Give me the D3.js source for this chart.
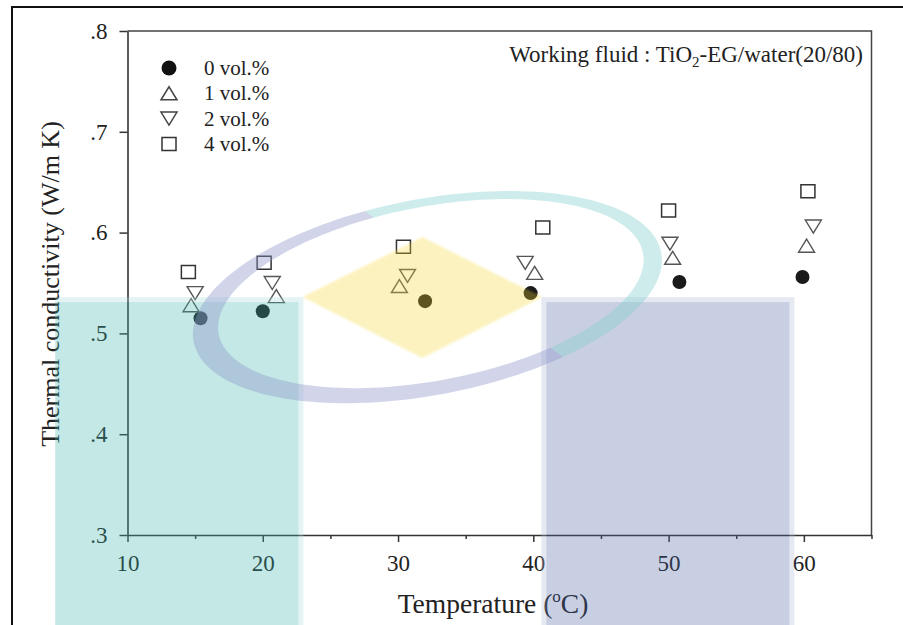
<!DOCTYPE html>
<html><head><meta charset="utf-8">
<script src="https://cdn.jsdelivr.net/npm/d3@7"></script>
<style>
html,body{margin:0;padding:0;background:#fff;}
svg{display:block;}
text{font-family:"Liberation Serif","Times New Roman",serif;}
</style></head><body>
<svg id="chart" width="903" height="625"></svg>
<script>
// ---------------- data ----------------
const seriesNames = ["0 vol.%", "1 vol.%", "2 vol.%", "4 vol.%"];
const temp0 = [15.4, 20.0, 32.0, 39.8, 50.8, 59.9];
const cond0 = [0.515, 0.522, 0.532, 0.540, 0.551, 0.556];
const temp1 = [14.7, 21.0, 30.1, 40.1, 50.3, 60.2];
const cond1 = [0.528, 0.537, 0.547, 0.560, 0.575, 0.587];
const temp2 = [15.0, 20.7, 30.7, 39.4, 50.1, 60.7];
const cond2 = [0.540, 0.550, 0.557, 0.570, 0.589, 0.606];
const temp4 = [14.5, 20.1, 30.4, 40.7, 50.0, 60.3];
const cond4 = [0.561, 0.570, 0.586, 0.605, 0.622, 0.641];
const xTicks = [10, 20, 30, 40, 50, 60];
const xMinorTicks = [15, 25, 35, 45, 55, 65];
const yTicks = [0.3, 0.4, 0.5, 0.6, 0.7, 0.8];
const yTickLabels = [".3", ".4", ".5", ".6", ".7", ".8"];
const xTitle = "Temperature (";
const yTitle = "Thermal conductivity (W/m K)";

// ---------------- layout ----------------
const svg = d3.select("#chart");
const W = 903, H = 625;
const x = d3.scaleLinear().domain([10, 65]).range([127.5, 871.5]);
const y = d3.scaleLinear().domain([0.3, 0.8]).range([535, 31]);
const ink = "#222";

// outer figure frame
svg.append("path").attr("d", `M12,${H} V7 H${W}`)
  .attr("fill", "none").attr("stroke", "#111").attr("stroke-width", 2);

// plot frame (top and right)
svg.append("path")
  .attr("d", `M${x(10)},${y(0.8)} H${x(65)} V${y(0.3)}`)
  .attr("fill", "none").attr("stroke", "#444").attr("stroke-width", 1.5);

// axes
const yAxis = d3.axisLeft(y).tickValues(yTicks)
  .tickFormat((d, i) => yTickLabels[i]).tickSize(8).tickPadding(12).tickSizeOuter(0);
const gy = svg.append("g").attr("transform", `translate(${x(10)},0)`).call(yAxis);
const xAxis = d3.axisBottom(x).tickValues(xTicks).tickSize(7).tickPadding(13).tickSizeOuter(0);
const gx = svg.append("g").attr("transform", `translate(0,${y(0.3)})`).call(xAxis);
const xMinor = d3.axisBottom(x).tickValues(xMinorTicks).tickSize(4).tickFormat("").tickSizeOuter(0);
const gxm = svg.append("g").attr("transform", `translate(0,${y(0.3)})`).call(xMinor);
gxm.select(".domain").remove();
[gx, gy, gxm].forEach(g => {
  g.attr("font-family", null).attr("font-size", null);
  g.selectAll(".domain").attr("stroke", "#333").attr("stroke-width", 1.6);
  g.selectAll(".tick line").attr("stroke", "#333").attr("stroke-width", 1.5);
  g.selectAll(".tick text").attr("fill", ink).style("font-size", "23px")
    .style("font-family", '"Liberation Serif","Times New Roman",serif');
});

// axis titles
const xt = svg.append("text").attr("x", 493).attr("y", 613)
  .attr("text-anchor", "middle").attr("fill", ink).style("font-size", "27.5px");
xt.append("tspan").text(xTitle);
xt.append("tspan").text("o").style("font-size", "17px").attr("dy", -11);
xt.append("tspan").text("C)").attr("dy", 11);

svg.append("text").attr("transform", "translate(59,284) rotate(-90)")
  .attr("text-anchor", "middle").attr("fill", ink).style("font-size", "26px")
  .text(yTitle);

// annotation
const note = svg.append("text").attr("x", 863).attr("y", 62)
  .attr("text-anchor", "end").attr("fill", ink).style("font-size", "23px");
note.append("tspan").text("Working fluid : TiO");
note.append("tspan").text("2").style("font-size", "15px").attr("dy", 5);
note.append("tspan").text("-EG/water(20/80)").attr("dy", -5);

// ---------------- markers ----------------
const triUp = (cx, cy) => `M${cx - 8},${cy + 6.5} L${cx + 8},${cy + 6.5} L${cx},${cy - 6.5} Z`;
const triDown = (cx, cy) => `M${cx - 8},${cy - 6.5} L${cx + 8},${cy - 6.5} L${cx},${cy + 6.5} Z`;
const sq = (cx, cy) => `M${cx - 7},${cy - 6.5} H${cx + 7} V${cy + 6.5} H${cx - 7} Z`;

const pts = (tx, ky) => tx.map((t, i) => ({t, k: ky[i]}));
const gData = svg.append("g");
gData.selectAll("circle.s0").data(pts(temp0, cond0)).join("circle").attr("class", "s0")
  .attr("cx", d => x(d.t)).attr("cy", d => y(d.k)).attr("r", 7).attr("fill", "#1a1a1a");
gData.selectAll("path.s1").data(pts(temp1, cond1)).join("path").attr("class", "s1")
  .attr("d", d => triUp(x(d.t), y(d.k))).attr("fill", "none").attr("stroke", "#555").attr("stroke-width", 1.4);
gData.selectAll("path.s2").data(pts(temp2, cond2)).join("path").attr("class", "s2")
  .attr("d", d => triDown(x(d.t), y(d.k))).attr("fill", "none").attr("stroke", "#555").attr("stroke-width", 1.4);
gData.selectAll("path.s4").data(pts(temp4, cond4)).join("path").attr("class", "s4")
  .attr("d", d => sq(x(d.t), y(d.k))).attr("fill", "none").attr("stroke", "#333").attr("stroke-width", 1.5);

// legend
const leg = svg.append("g");
seriesNames.forEach((name, i) => {
  const cy = 68 + i * 25.3, cx = 169;
  if (i === 0) leg.append("circle").attr("cx", cx).attr("cy", cy).attr("r", 7.5).attr("fill", "#111");
  else {
    const d = i === 1 ? triUp(cx, cy) : i === 2 ? triDown(cx, cy) : sq(cx, cy);
    leg.append("path").attr("d", d).attr("fill", "none")
      .attr("stroke", i === 3 ? "#333" : "#444").attr("stroke-width", 1.5);
  }
  leg.append("text").attr("x", 204).attr("y", cy + 7).attr("fill", ink)
    .style("font-size", "21px").text(name);
});

// ---------------- translucent watermark logo (drawn over the chart) ----------------
const A = 0.3;
function tint(hex, a = A) {
  const c = d3.rgb(hex);
  const f = v => Math.max(0, Math.min(255, Math.round((v - 255 * (1 - a)) / a)));
  return d3.rgb(f(c.r), f(c.g), f(c.b)).formatHex();
}
const defs = svg.append("defs");
defs.append("filter").attr("id", "soft").attr("x", "-20%").attr("y", "-20%")
  .attr("width", "140%").attr("height", "140%")
  .append("feGaussianBlur").attr("stdDeviation", 1.3);
defs.append("filter").attr("id", "soft2")
  .append("feGaussianBlur").attr("stdDeviation", 0.6);

const cxL = x(31.8), cyL = y(0.536);   // logo centre
const wm = svg.append("g").style("pointer-events", "none");

// teal block (left)
const tealC = tint("#c5e9e7");
const gT = wm.append("g").attr("opacity", A).attr("filter", "url(#soft2)");
gT.append("rect").attr("x", cxL - 367).attr("y", cyL).attr("width", 248).attr("height", H - cyL + 10)
  .attr("fill", d3.interpolateRgb(tealC, "#fff")(0.55));
gT.append("rect").attr("x", cxL - 367).attr("y", cyL + 5).attr("width", 243).attr("height", H - cyL)
  .attr("fill", tealC);

// blue-grey block (right)
const blueC = tint("#c9d0e4");
const gB = wm.append("g").attr("opacity", A).attr("filter", "url(#soft2)");
gB.append("rect").attr("x", cxL + 119).attr("y", cyL).attr("width", 253).attr("height", H - cyL + 10)
  .attr("fill", d3.interpolateRgb(blueC, "#fff")(0.55));
gB.append("rect").attr("x", cxL + 124).attr("y", cyL + 5).attr("width", 243).attr("height", H - cyL)
  .attr("fill", blueC);

// yellow diamond
wm.append("path")
  .attr("d", `M${cxL - 120},${cyL} L${cxL},${cyL - 60} L${cxL + 120},${cyL} L${cxL},${cyL + 61} Z`)
  .attr("fill", tint("#fcf3c1")).attr("opacity", A).attr("filter", "url(#soft)");

// elliptical ring: blue-grey on the lower-left side, teal on the upper-right side
function ellipsePts(ex, ey, a, b, rotDeg) {
  const r = rotDeg * Math.PI / 180;
  return d3.range(0, 181).map(i => {
    const t = i / 180 * 2 * Math.PI;
    const px = a * Math.cos(t), py = b * Math.sin(t);
    return [ex + px * Math.cos(r) - py * Math.sin(r), ey + px * Math.sin(r) + py * Math.cos(r)];
  });
}
const ln = d3.line();
const outer = ellipsePts(cxL + 5, cyL, 238, 98, -10.8);
const inner = ellipsePts(cxL + 8.5, cyL - 3.5, 216, 87, -10.8);
const ringD = ln(outer) + "Z" + ln(inner) + "Z";
const P0 = [cxL - 432, cyL - 362], P3 = [cxL + 518, cyL + 338];
defs.append("clipPath").attr("id", "clipBlue").append("path")
  .attr("d", `M${P0} L${P3} L${cxL - 432},${cyL + 338} Z`);
defs.append("clipPath").attr("id", "clipTeal").append("path")
  .attr("d", `M${P0} L${P3} L${cxL + 518},${cyL - 362} Z`);
const AR = 0.4;
wm.append("g").attr("clip-path", "url(#clipBlue)").append("path").attr("d", ringD)
  .attr("fill-rule", "evenodd").attr("fill", tint("#d2d5ea", AR)).attr("opacity", AR);
wm.append("g").attr("clip-path", "url(#clipTeal)").append("path").attr("d", ringD)
  .attr("fill-rule", "evenodd").attr("fill", tint("#cdeceb", AR)).attr("opacity", AR);
</script>
</body></html>
